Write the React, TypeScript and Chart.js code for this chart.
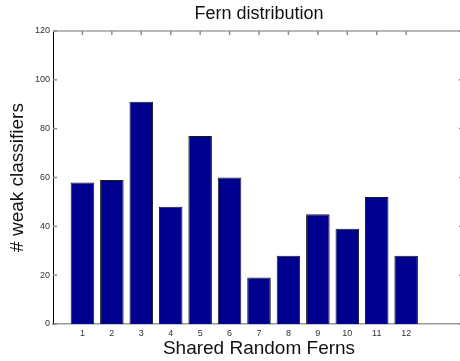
import React, { useEffect, useRef } from "react";
import { Chart, registerables } from "chart.js";

Chart.register(...registerables);

const categories = [1, 2, 3, 4, 5, 6, 7, 8, 9, 10, 11, 12];
const counts = [58, 59, 91, 48, 77, 60, 19, 28, 45, 39, 52, 28];
const yTicks = [0, 20, 40, 60, 80, 100, 120];
const xTickLabels = ["1", "2", "3", "4", "5", "6", "7", "8", "9", "10", "11", "12"];

const FONT = "'Liberation Sans', Arial, Helvetica, sans-serif";

const framePlugin = {
  id: "frame",
  afterDatasetsDraw(chart: any) {
    const { ctx, chartArea: a, scales } = chart;
    const line = (x1: number, y1: number, x2: number, y2: number) => {
      ctx.beginPath();
      ctx.moveTo(x1, y1);
      ctx.lineTo(x2, y2);
      ctx.stroke();
    };
    ctx.save();
    ctx.strokeStyle = "#b8b8b8";
    ctx.lineWidth = 2;
    line(a.left, a.top, a.right, a.top);
    line(a.right, a.top, a.right, a.bottom);
    ctx.strokeStyle = "#8c8c8c";
    ctx.lineWidth = 1.5;
    categories.forEach((c) => {
      const x = scales.x.getPixelForValue(c);
      line(x, a.top, x, a.top + 4);
    });
    yTicks.forEach((v) => {
      const y = scales.y.getPixelForValue(v);
      line(a.left, y, a.left + 4, y);
      line(a.right, y, a.right - 6, y);
    });
    ctx.restore();
  },
};

export default function App() {
  const ref = useRef<HTMLCanvasElement | null>(null);

  useEffect(() => {
    if (!ref.current) return;
    const chart = new Chart(ref.current, {
      type: "bar",
      data: {
        datasets: [
          {
            data: categories.map((c, i) => ({ x: c, y: counts[i] })),
            backgroundColor: "#00008f",
            borderColor: "#1a1a1a",
            borderWidth: 1,
            barPercentage: 0.8,
            categoryPercentage: 1,
          },
        ],
      },
      options: {
        responsive: false,
        animation: false,
        devicePixelRatio: 1,
        layout: { padding: { left: 0, right: 5, top: 0, bottom: 0 } },
        plugins: {
          legend: { display: false },
          tooltip: { enabled: false },
          title: {
            display: true,
            text: "Fern distribution",
            fullSize: false,
            color: "#111",
            font: { family: FONT, size: 18, weight: "normal" },
            padding: { top: 3, bottom: 6.4 },
          },
        },
        scales: {
          x: {
            type: "linear",
            min: 0,
            max: 14,
            offset: false,
            afterFit: (s: any) => {
              s.height = 37;
            },
            afterBuildTicks: (s: any) => {
              s.ticks = categories.map((c) => ({ value: c }));
            },
            ticks: {
              autoSkip: false,
              maxRotation: 0,
              padding: 4,
              color: "#333",
              font: { family: FONT, size: 9 },
              callback: (v: any) => {
                const i = categories.indexOf(Number(v));
                return i >= 0 ? xTickLabels[i] : "";
              },
            },
            grid: { display: false, drawTicks: false, offset: false },
            border: { display: true, color: "#9a9a9a", width: 1.5 },
            title: {
              display: true,
              text: "Shared Random Ferns",
              color: "#111",
              font: { family: FONT, size: 19, weight: "normal" },
              padding: { top: 0, bottom: 1 },
            },
          },
          y: {
            type: "linear",
            min: 0,
            max: 120,
            afterFit: (s: any) => {
              s.width = 53;
            },
            afterBuildTicks: (s: any) => {
              s.ticks = yTicks.map((v) => ({ value: v }));
            },
            ticks: {
              padding: 3,
              color: "#333",
              font: { family: FONT, size: 9 },
            },
            grid: { display: false, drawTicks: false },
            border: { display: true, color: "#000", width: 1 },
            title: {
              display: true,
              text: "# weak classifiers",
              color: "#111",
              font: { family: FONT, size: 19, weight: "normal" },
              padding: { top: 6, bottom: 0 },
            },
          },
        },
      },
      plugins: [framePlugin],
    } as any);
    return () => chart.destroy();
  }, []);

  return (
    <div
      style={{
        position: "fixed",
        left: 0,
        top: 0,
        width: 460,
        height: 361,
        overflow: "hidden",
        background: "#fff",
      }}
    >
      <canvas ref={ref} width={470} height={361} style={{ width: 470, height: 361, display: "block" }} />
    </div>
  );
}
